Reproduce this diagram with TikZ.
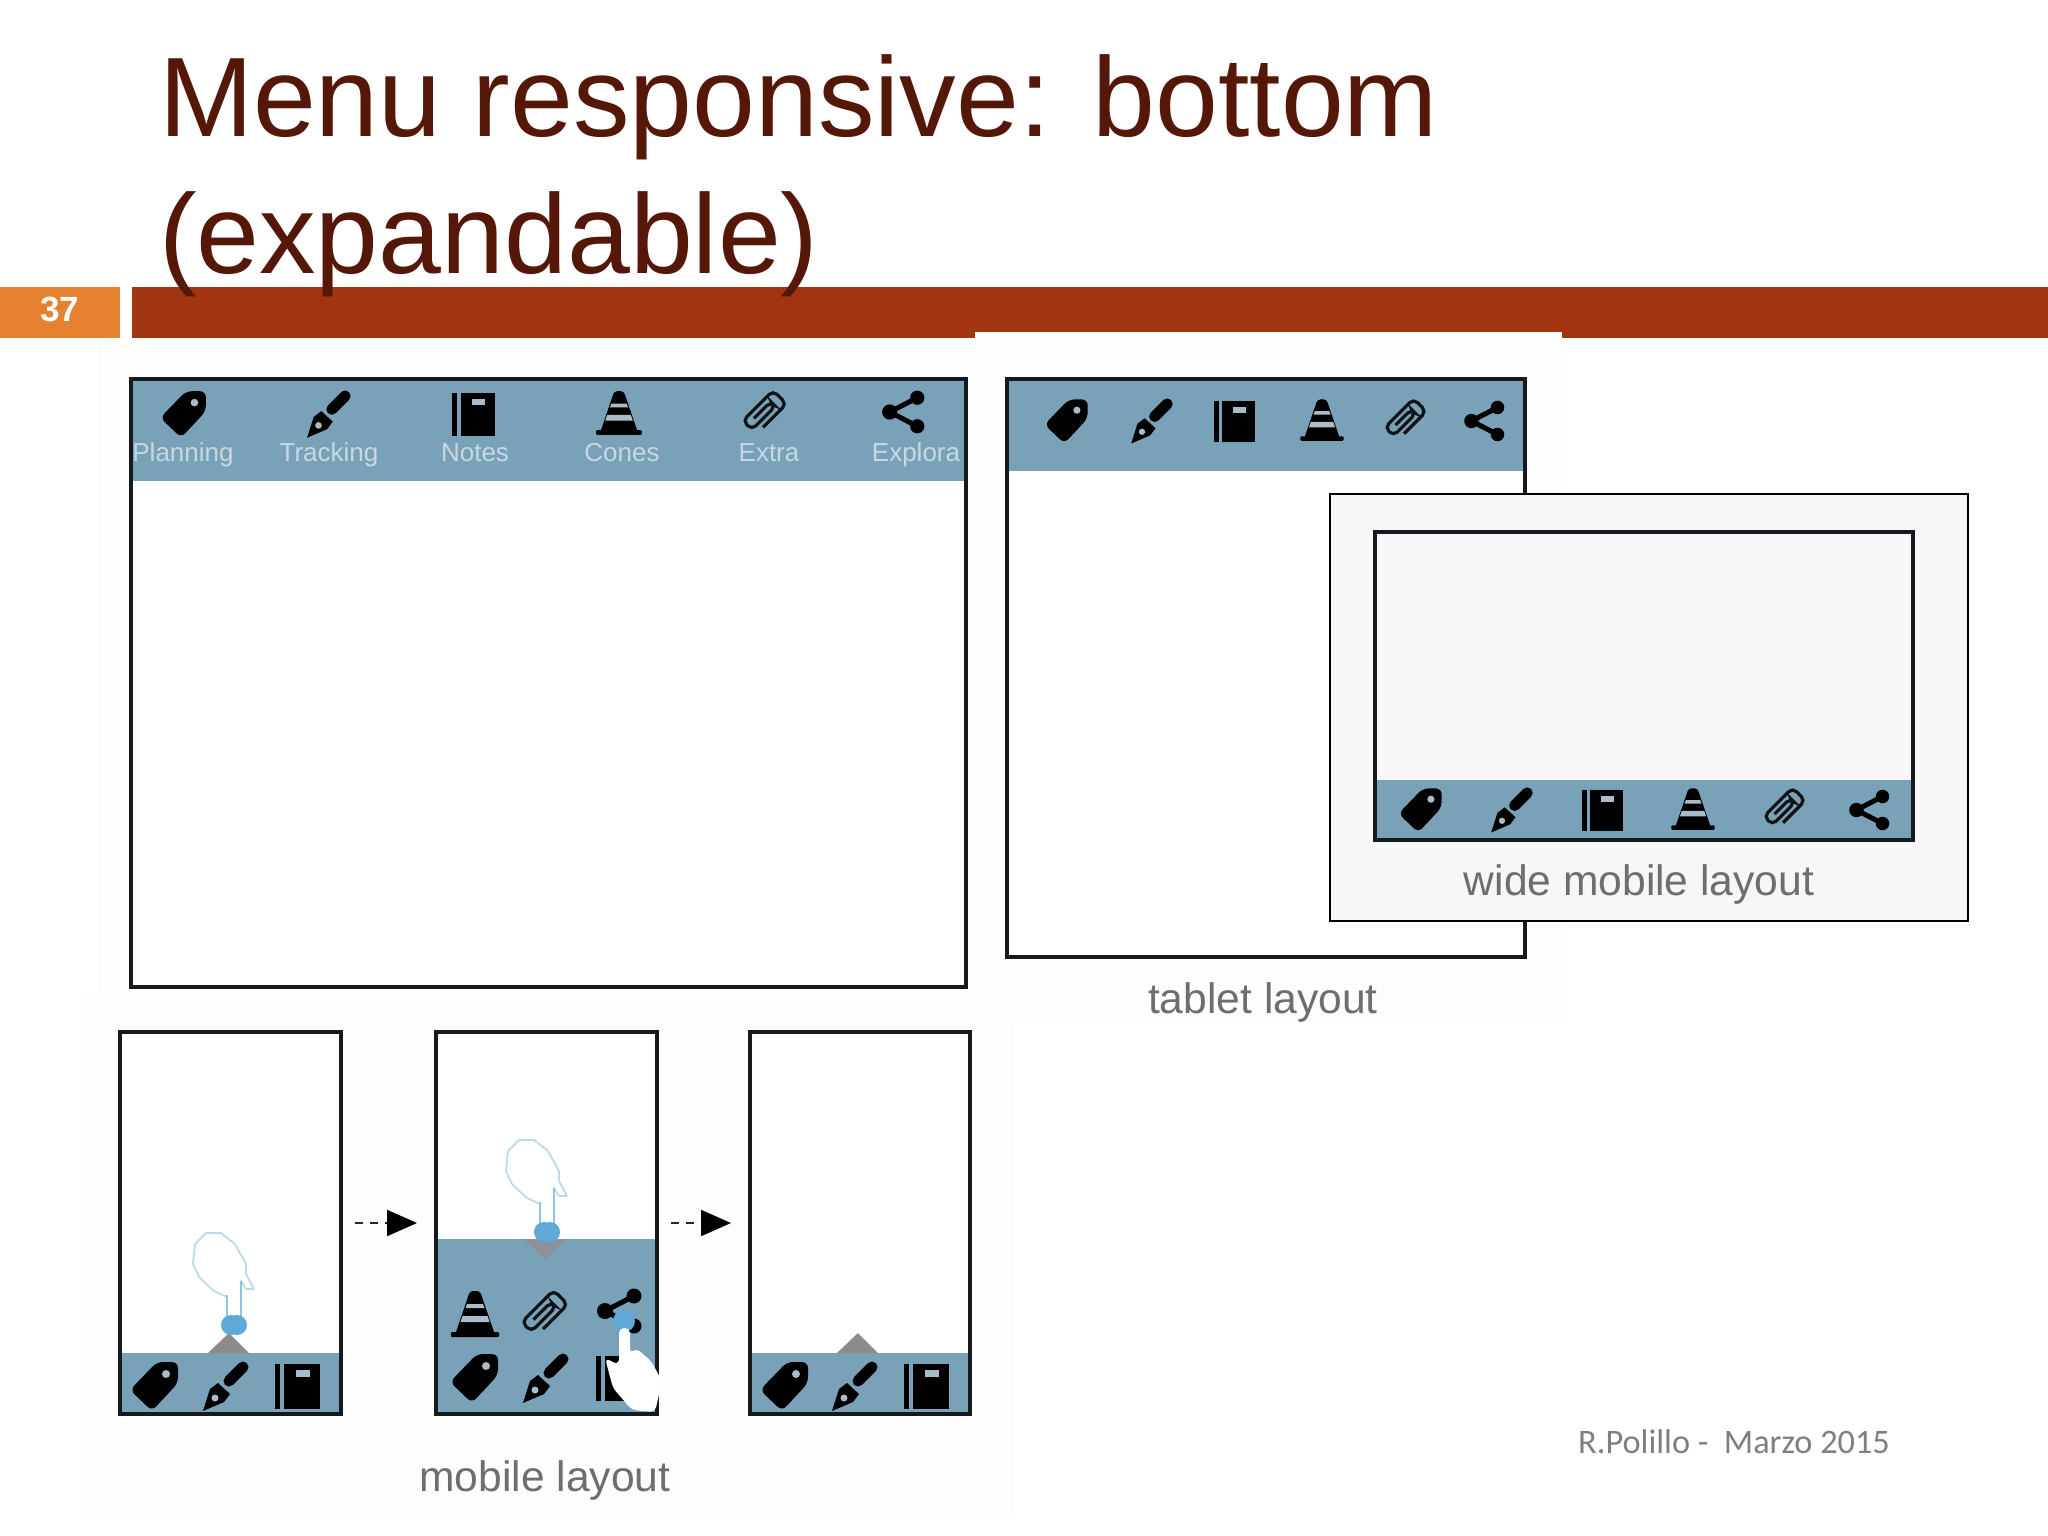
\documentclass[tikz,border=0pt]{standalone}
\usepackage{fontspec}
\setmainfont{Liberation Sans}
\newfontfamily\footfont{Carlito}
\usetikzlibrary{arrows.meta}
\definecolor{titlecol}{HTML}{551708}
\definecolor{barred}{HTML}{A33411}
\definecolor{barorange}{HTML}{E5812F}
\definecolor{bandblue}{HTML}{79A1B7}
\definecolor{framecol}{HTML}{161A1C}
\definecolor{capgray}{HTML}{6E6E6E}
\definecolor{footgray}{HTML}{7F7F7F}
\definecolor{tablabel}{HTML}{C8D8E2}
\definecolor{stripe}{HTML}{A9BCC8}
\definecolor{popbg}{HTML}{F7F7F9}
\definecolor{shotbg}{HTML}{FDFDFE}
\definecolor{dotblue}{HTML}{5FA8D8}
\definecolor{handline}{HTML}{B9DCE8}
\definecolor{arrowgray}{HTML}{8F8A8A}
\definecolor{arrowdown}{HTML}{8C9299}
\tikzset{
  x=1pt,y=-1pt,
  txt/.style={inner sep=0pt,outer sep=0pt},
  titletext/.style={txt,anchor=base west,text=titlecol,font=\fontsize{113}{134}\selectfont},
  captext/.style={txt,text=capgray,font=\fontsize{42.6}{48}\selectfont},
  tablab/.style={txt,anchor=base,text=tablabel,font=\fontsize{26}{30}\selectfont},
  frameb/.style={draw=framecol,line width=3.2pt,anchor=north west,inner sep=0pt,outer sep=0pt},
  hole/.style={fill=stripe},
  tagicon/.pic={
    \fill[black,rounded corners=6pt] (-25,4) -- (-3,25) -- (23,-3) -- (23,-24) -- (2,-24) -- cycle;
    \fill[hole] (11,-12) circle (4);
  },
  penicon/.pic={
    \draw[black,line width=11pt,line cap=round] (18,-19) -- (4,-5);
    \fill[black] (-22,25) -- (-15,3) -- (-7,-3) -- (5,8) -- (-1,16) -- cycle;
    \fill[hole] (-10,12) circle (3.5);
  },
  noteicon/.pic={
    \fill[black] (-23,-22) rectangle (-18,23);
    \fill[black] (-14,-22) rectangle (22,23);
    \fill[hole] (-2,-16) rectangle (12,-9);
  },
  coneicon/.pic={
    \fill[black,rounded corners=3pt] (-20,20) -- (-5,-24) -- (5,-24) -- (20,20) -- cycle;
    \fill[black,rounded corners=1pt] (-24,17) rectangle (24,22);
    \fill[hole] (-8,-11) -- (8,-11) -- (9.5,-7) -- (-9.5,-7) -- cycle;
    \fill[hole] (-12.5,1) -- (12.5,1) -- (14.5,7) -- (-14.5,7) -- cycle;
  },
  clipicon/.pic={
    \begin{scope}[rotate=45]
      \draw[black!88!bandblue,line width=3.2pt,rounded corners=5.5pt]
        (-10,-3.5) -- (15,-3.5) -- (15,3.5) -- (-20,3.5) -- (-20,-10) -- (25,-10) -- (25,10) -- (-10,10);
    \end{scope}
  },
  shareicon/.pic={
    \draw[black,line width=5pt] (15,-15) -- (-14,0) -- (15,15);
    \fill[black] (15,-15) circle (7.5) (-14,0) circle (8) (15,15) circle (7.5);
  },
  handpic/.pic={
    \draw[handline,line width=1.8pt,fill=white,line join=round]
      (-28,-92) -- (-13,-92) -- (1,-81) -- (12,-61) -- (12,-51) -- (20,-36) -- (12,-36) -- (7,-44)
      -- (7,-8) -- (-7,-8) -- (-7,-28) -- (-20,-34) -- (-35,-48) -- (-41,-61) -- (-39,-81) -- cycle;
    \draw[dotblue!70!white,line width=1.8pt] (-7,-30) -- (-7,-8) (7,-44) -- (7,-8);
    \fill[dotblue] (-3,0) circle (10) (3,0) circle (10);
  },
  dashline/.style={black!85,line width=2pt,dash pattern=on 8pt off 7pt,
    -{Triangle[length=30pt,width=26pt,black]},shorten >=19pt,shorten <=14pt},
}
\begin{document}
\begin{tikzpicture}
\useasboundingbox (0,0) rectangle (2048,1536);
\fill[white] (0,0) rectangle (2048,1536);
% faint screenshot backgrounds
\fill[shotbg] (98,343) rectangle (975,993);
\fill[shotbg] (80,993) rectangle (1015,1518);
\fill[shotbg] (975,338) rectangle (1562,1020);
% top bar
\fill[barorange] (0,287) rectangle (120,338);
\fill[barred] (132,287) rectangle (2048,338);
\fill[white] (975,332) rectangle (1562,338);
\node[txt,text=white,font=\fontsize{35}{40}\selectfont\bfseries] (pagenum) at (60,309) {37};
\node[titletext] (title1) at (159,136) {Menu responsive: bottom};
\node[titletext] (title2) at (159,273) {(expandable)};

% desktop
\fill[white] (131,379) rectangle (966,987);
\fill[bandblue] (131,379) rectangle (966,481);
\node[frameb,minimum width=835pt,minimum height=608pt] (desktop) at (131,379) {};
\pic[scale=.95] at (184,414) {tagicon};
\pic[scale=.95] at (328,414) {penicon};
\pic[scale=.95] at (474,414) {noteicon};
\pic[scale=.95] at (619,414) {coneicon};
\pic[scale=.95] at (763,414) {clipicon};
\pic[scale=.95] at (903,412) {shareicon};
\node[tablab] (lplanning) at (183,461) {Planning};
\node[tablab] (ltracking) at (329,461) {Tracking};
\node[tablab] (lnotes) at (475,461) {Notes};
\node[tablab] (lcones) at (622,461) {Cones};
\node[tablab] (lextra) at (769,461) {Extra};
\node[tablab] (lexplora) at (916,461) {Explora};

% tablet
\fill[white] (1007,379) rectangle (1525,957);
\fill[bandblue] (1007,379) rectangle (1525,471);
\node[frameb,minimum width=518pt,minimum height=578pt] (tablet) at (1007,379) {};
\pic[scale=.9] at (1067,421) {tagicon};
\pic[scale=.9] at (1151,421) {penicon};
\pic[scale=.9] at (1235,421) {noteicon};
\pic[scale=.9] at (1322,421) {coneicon};
\pic[scale=.9] at (1404,421) {clipicon};
\pic[scale=.9] at (1484,421) {shareicon};
\node[captext] (tabcap) at (1263,1002) {tablet layout};

% wide mobile popup
\node[draw=black,line width=1.5pt,fill=popbg,anchor=north west,inner sep=0pt,outer sep=0pt,
  minimum width=638pt,minimum height=427pt] (popup) at (1330,494) {};
\fill[bandblue] (1375,780) rectangle (1913,840);
\node[frameb,minimum width=538pt,minimum height=308pt] (wide) at (1375,532) {};
\pic[scale=.9] at (1421,810) {tagicon};
\pic[scale=.9] at (1511,810) {penicon};
\pic[scale=.9] at (1603,810) {noteicon};
\pic[scale=.9] at (1693,810) {coneicon};
\pic[scale=.9] at (1783,810) {clipicon};
\pic[scale=.9] at (1869,810) {shareicon};
\node[captext] (widecap) at (1639,884) {wide mobile layout};

% mobile 1
\fill[white] (120,1032) rectangle (341,1414);
\fill[bandblue] (120,1353) rectangle (341,1414);
\fill[arrowgray] (229,1333) -- (249,1353) -- (208,1353) -- cycle;
\node[frameb,minimum width=221pt,minimum height=382pt] (m1) at (120,1032) {};
\pic at (155,1386) {tagicon};
\pic at (225,1386) {penicon};
\pic at (298,1386) {noteicon};
\pic at (234,1325) {handpic};

% mobile 2
\fill[white] (436,1032) rectangle (657,1414);
\fill[bandblue] (436,1239) rectangle (657,1414);
\fill[arrowdown] (523,1239) -- (567,1239) -- (545,1259) -- cycle;
\node[frameb,minimum width=221pt,minimum height=382pt] (m2) at (436,1032) {};
\pic at (475,1315) {coneicon};
\pic at (543,1315) {clipicon};
\pic at (619,1311) {shareicon};
\pic at (475,1378) {tagicon};
\pic at (545,1378) {penicon};
\pic at (619,1378) {noteicon};
\pic at (547,1232) {handpic};
\fill[dotblue] (624,1321) circle (11);
\fill[white,rounded corners=5pt] (619,1328) -- (630,1328) -- (630,1354) -- (636,1348) -- (651,1361)
  -- (662,1381) -- (655,1412) -- (632,1410) -- (613,1388) -- (605,1358) -- (619,1365) -- cycle;

% mobile 3
\fill[white] (750,1032) rectangle (970,1414);
\fill[bandblue] (750,1353) rectangle (970,1414);
\fill[arrowgray] (858,1333) -- (878,1353) -- (837,1353) -- cycle;
\node[frameb,minimum width=220pt,minimum height=382pt] (m3) at (750,1032) {};
\pic at (785,1386) {tagicon};
\pic at (854,1386) {penicon};
\pic at (927,1386) {noteicon};

\draw[dashline] (m1) -- (m2);
\draw[dashline] (m2) -- (m3);

\node[captext] (mobcap) at (545,1480) {mobile layout};
\node[txt,text=footgray,font=\footfont\fontsize{34.3}{38}\selectfont] (foot) at (1734,1442) {R.Polillo -\ \ Marzo 2015};
\end{tikzpicture}
\end{document}
